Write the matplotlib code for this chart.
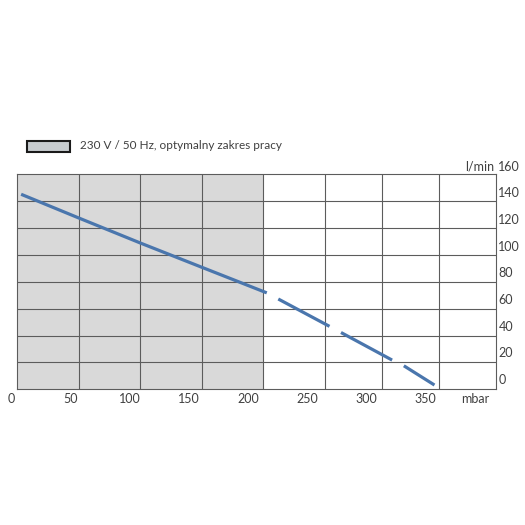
import matplotlib
matplotlib.use('Agg')
import matplotlib.pyplot as plt
import matplotlib.transforms as mtransforms
from matplotlib.patches import Rectangle

# curve (mbar -> l/min)
mbar = [8, 56, 109, 161, 216, 246, 276, 322, 332, 358]
flow = [139.4, 121.9, 102.8, 84.6, 65.4, 51.2, 37.0, 15.0, 10.7, -3.8]
solid_end = 4          # index where the dashed part starts
optimal_end = 213      # end of the grey "optimal range" band

x_ticks = [0, 50, 100, 150, 200, 250, 300, 350]
y_ticks = [0, 20, 40, 60, 80, 100, 120, 140, 160]
legend_text = '230 V / 50 Hz, optymalny zakres pracy'

plt.rcParams['font.family'] = ['Lato', 'DejaVu Sans']
plt.rcParams['lines.scale_dashes'] = False

blue = '#4a76ad'
grid_c = '#5c5c5c'
txt_c = '#404040'

fig = plt.figure(figsize=(5.25, 5.25), dpi=100)
ax = fig.add_axes([17/525, 1 - 389.3/525, 479/525, 215/525])
x0, x1 = 4.5, 410.1
y0, y1 = -7.0, 154.4
ax.set_xlim(x0, x1)
ax.set_ylim(y0, y1)
ax.set_xticks([])
ax.set_yticks([])
for s in ax.spines.values():
    s.set_color(grid_c)
    s.set_linewidth(0.8)

# grey band
ax.axvspan(x0, optimal_end, color='#d9d9d9', lw=0, zorder=0)

# grid (columns are not evenly spaced in the original)
col_edges = [0.1284, 0.2568, 0.3852, 0.5136, 0.643, 0.762, 0.881]
for f in col_edges:
    ax.plot([f, f], [0, 1], transform=ax.transAxes, color=grid_c, lw=0.8, zorder=1)
for k in range(1, 8):
    ax.axhline(y0 + k * (y1 - y0) / 8, color=grid_c, lw=0.8, zorder=1)

# pump curve
ax.plot(mbar[:solid_end + 1], flow[:solid_end + 1], color=blue, lw=2.3,
        solid_capstyle='butt', zorder=3)
ax.plot(mbar[solid_end:], flow[solid_end:], color=blue, lw=2.3,
        linestyle=(41.8, (41.8, 9.4)), dash_capstyle='butt', zorder=3)

# axis labels
tx = mtransforms.blended_transform_factory(ax.transData, ax.transAxes)
for t in x_ticks:
    ax.text(t, -0.045, str(t), transform=tx, ha='center', va='center',
            fontsize=9, color=txt_c, clip_on=False)
ax.text(0.956, -0.045, 'mbar', transform=ax.transAxes, ha='center', va='center',
        fontsize=9, color=txt_c)

ty = mtransforms.blended_transform_factory(ax.transAxes, ax.transData)
for t in y_ticks:
    ax.text(1.0048, t, str(t), transform=ty, ha='left', va='center',
            fontsize=9, color=txt_c, clip_on=False)
ax.text(0.9958, 160, 'l/min', transform=ty, ha='right', va='center',
        fontsize=9, color=txt_c, clip_on=False)

# legend
fig.patches.append(Rectangle((26.7/525, 1 - 152.3/525), 43.3/525, 11.3/525,
                             transform=fig.transFigure, fc='#c7cccf',
                             ec='#1a1a1a', lw=1.5))
fig.text(80/525, 1 - 145.7/525, legend_text, ha='left', va='center',
         fontsize=8.5, color=txt_c)

fig.savefig('out.png', dpi=100)
